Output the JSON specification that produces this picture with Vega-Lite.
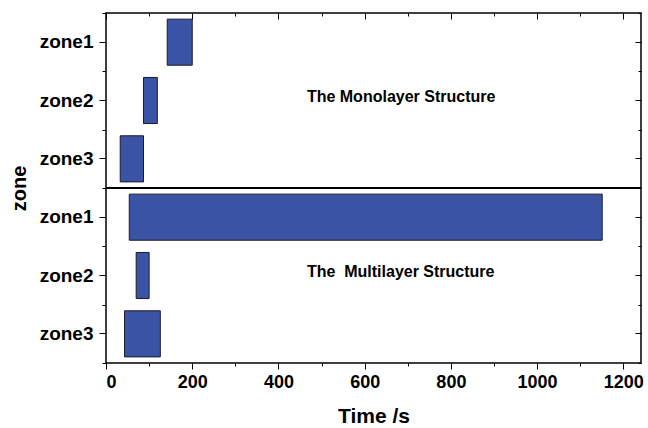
{
  "$schema": "https://vega.github.io/schema/vega-lite/v6.json",
  "width": 535,
  "height": 350,
  "autosize": "none",
  "padding": {"left": 106, "top": 13, "right": 7, "bottom": 65},
  "background": "white",
  "config": {
    "view": {"stroke": "black", "strokeWidth": 1.5},
    "axis": {
      "domain": false,
      "grid": false,
      "tickColor": "black",
      "tickWidth": 1,
      "labelFont": "Liberation Sans",
      "labelFontWeight": "bold",
      "labelColor": "black",
      "titleFont": "Liberation Sans",
      "titleFontWeight": "bold",
      "titleColor": "black"
    }
  },
  "data": {
    "values": [
      {"row": "A zone1", "start": 142, "end": 200},
      {"row": "A zone2", "start": 87, "end": 119},
      {"row": "A zone3", "start": 33, "end": 87},
      {"row": "B zone1", "start": 54, "end": 1151},
      {"row": "B zone2", "start": 70, "end": 100},
      {"row": "B zone3", "start": 43, "end": 126}
    ]
  },
  "resolve": {"axis": {"x": "independent", "y": "independent"}},
  "layer": [
    {
      "mark": {"type": "bar", "color": "#3a53a4", "stroke": "#1a1a2a", "strokeWidth": 1, "height": {"band": 0.79}},
      "encoding": {
        "x": {"field": "start", "type": "quantitative", "scale": {"domain": [0, 1241], "nice": false, "zero": false},
          "axis": {"orient": "bottom", "values": [0, 200, 400, 600, 800, 1000, 1200], "format": "d", "tickSize": 6, "labelFontSize": 18, "labelPadding": 4, "title": "Time /s", "titleFontSize": 21, "titlePadding": 14}},
        "x2": {"field": "end"},
        "y": {"field": "row", "type": "nominal",
          "scale": {"type": "band", "domain": ["A zone1", "A zone2", "A zone3", "B zone1", "B zone2", "B zone3"], "paddingInner": 0, "paddingOuter": 0},
          "axis": {"orient": "left", "tickSize": 7, "labelFontSize": 19, "labelPadding": 6, "labelExpr": "substring(datum.value, 2)", "title": "zone", "titleFontSize": 20, "titlePadding": 10}}
      }
    },
    {
      "mark": {"type": "bar", "opacity": 0, "height": {"band": 0.79}},
      "encoding": {
        "x": {"field": "start", "type": "quantitative", "scale": {"domain": [0, 1241], "nice": false, "zero": false},
          "axis": {"orient": "bottom", "values": [100, 300, 500, 700, 900, 1100], "tickSize": 3, "labels": false, "title": null}},
        "x2": {"field": "end"},
        "y": {"field": "row", "type": "nominal",
          "scale": {"type": "band", "domain": ["A zone1", "A zone2", "A zone3", "B zone1", "B zone2", "B zone3"], "paddingInner": 0, "paddingOuter": 0},
          "axis": {"orient": "left", "tickBand": "extent", "tickSize": 4, "labels": false, "title": null}}
      }
    },
    {
      "mark": {"type": "bar", "opacity": 0, "height": {"band": 0.79}},
      "encoding": {
        "x": {"field": "start", "type": "quantitative", "scale": {"domain": [0, 1241], "nice": false, "zero": false},
          "axis": {"orient": "top", "values": [0, 200, 400, 600, 800, 1000, 1200], "tickSize": -6, "labels": false, "title": null}},
        "x2": {"field": "end"},
        "y": {"field": "row", "type": "nominal",
          "scale": {"type": "band", "domain": ["A zone1", "A zone2", "A zone3", "B zone1", "B zone2", "B zone3"], "paddingInner": 0, "paddingOuter": 0},
          "axis": {"orient": "right", "tickSize": -6, "labels": false, "title": null}}
      }
    },
    {
      "mark": {"type": "bar", "opacity": 0, "height": {"band": 0.79}},
      "encoding": {
        "x": {"field": "start", "type": "quantitative", "scale": {"domain": [0, 1241], "nice": false, "zero": false},
          "axis": {"orient": "top", "values": [100, 300, 500, 700, 900, 1100], "tickSize": -3, "labels": false, "title": null}},
        "x2": {"field": "end"},
        "y": {"field": "row", "type": "nominal",
          "scale": {"type": "band", "domain": ["A zone1", "A zone2", "A zone3", "B zone1", "B zone2", "B zone3"], "paddingInner": 0, "paddingOuter": 0},
          "axis": {"orient": "right", "tickBand": "extent", "tickSize": -3, "labels": false, "title": null}}
      }
    },
    {
      "data": {"values": [{"row": "B zone1"}]},
      "mark": {"type": "rule", "color": "black", "strokeWidth": 2},
      "encoding": {
        "y": {"field": "row", "type": "nominal", "bandPosition": 0,
          "scale": {"type": "band", "domain": ["A zone1", "A zone2", "A zone3", "B zone1", "B zone2", "B zone3"], "paddingInner": 0, "paddingOuter": 0},
          "axis": null}
      }
    },
    {
      "data": {"values": [
        {"row": "A zone2", "x": 466, "label": "The Monolayer Structure"},
        {"row": "B zone2", "x": 466, "label": "The\u00a0 Multilayer Structure"}
      ]},
      "mark": {"type": "text", "align": "left", "baseline": "middle", "dy": -4, "font": "Liberation Sans", "fontWeight": "bold", "fontSize": 16, "color": "black"},
      "encoding": {
        "x": {"field": "x", "type": "quantitative", "scale": {"domain": [0, 1241], "nice": false, "zero": false}, "axis": null},
        "y": {"field": "row", "type": "nominal",
          "scale": {"type": "band", "domain": ["A zone1", "A zone2", "A zone3", "B zone1", "B zone2", "B zone3"], "paddingInner": 0, "paddingOuter": 0},
          "axis": null},
        "text": {"field": "label"}
      }
    }
  ]
}
